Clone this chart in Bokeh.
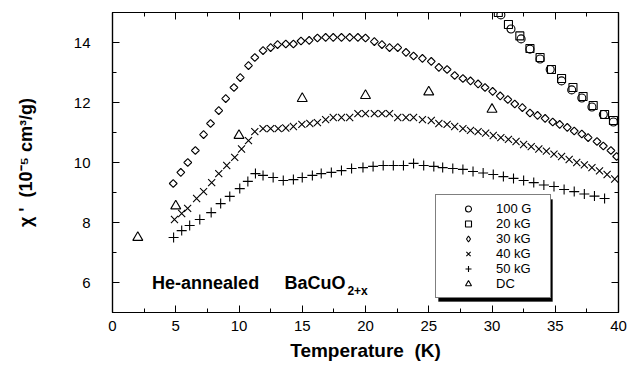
import math
from bokeh.plotting import figure
from bokeh.models import (Range1d, SingleIntervalTicker, LinearAxis, Legend, LegendItem, Label,
                          BoxAnnotation, CustomJSTickFormatter)
from bokeh.embed import file_html
from bokeh.resources import INLINE

FONT = "Liberation Sans"

# 100 G (circles)
t_100G = [30.7, 31.5, 32.3, 33.0, 33.8, 34.6, 35.5, 36.3, 37.1, 37.9, 38.8, 39.6]
x_100G = [14.92, 14.45, 14.12, 13.78, 13.45, 13.1, 12.72, 12.42, 12.15, 11.85, 11.6, 11.35]

# 20 kG (squares)
t_20kG = [30.5, 31.3, 32.2, 33.0, 33.8, 34.7, 35.5, 36.4, 37.2, 38.0, 38.9, 39.6]
x_20kG = [15.0, 14.6, 14.22, 13.8, 13.5, 13.1, 12.8, 12.5, 12.2, 11.9, 11.6, 11.4]

# 30 kG (diamonds)
t_30kG = [4.8, 5.4, 5.95, 6.55, 7.2, 7.75, 8.4, 8.95, 9.6, 10.1, 10.75, 11.25, 11.9, 12.5, 13.05,
          13.7, 14.3, 14.9, 15.55, 16.2, 16.85, 17.45, 18.1, 18.75, 19.4, 20.0, 20.7, 21.3, 21.9, 22.55,
          23.2, 23.8, 24.5, 25.2, 25.8, 26.45, 27.05, 27.7, 28.3, 28.9, 29.45, 30.05, 30.65, 31.25, 31.8,
          32.4, 33.0, 33.6, 34.2, 34.8, 35.35, 35.95, 36.5, 37.1, 37.6, 38.3, 38.8, 39.4, 39.85]
x_30kG = [9.3, 9.67, 10.0, 10.4, 10.93, 11.3, 11.73, 12.13, 12.5, 12.83, 13.23, 13.5, 13.73, 13.83, 13.93,
          13.95, 13.95, 14.05, 14.07, 14.15, 14.17, 14.17, 14.17, 14.17, 14.17, 14.15, 14.03, 13.93, 13.83, 13.83,
          13.67, 13.55, 13.47, 13.37, 13.17, 13.1, 12.9, 12.8, 12.72, 12.62, 12.5, 12.37, 12.22, 12.1, 11.95,
          11.83, 11.65, 11.57, 11.47, 11.35, 11.27, 11.17, 11.05, 10.95, 10.83, 10.7, 10.55, 10.4, 10.2]

# 40 kG (x)
t_40kG = [4.9, 5.47, 5.94, 6.65, 7.2, 7.84, 8.4, 9.03, 9.66, 10.2, 10.75, 11.25, 11.9, 12.5, 13.1,
          13.7, 14.3, 14.97, 15.6, 16.2, 16.85, 17.45, 18.1, 18.75, 19.4, 20.0, 20.7, 21.3, 21.9, 22.55,
          23.2, 23.8, 24.5, 25.2, 25.8, 26.45, 27.05, 27.7, 28.3, 28.9, 29.5, 30.1, 30.7, 31.3, 31.9,
          32.5, 33.1, 33.7, 34.3, 34.9, 35.5, 36.1, 36.7, 37.3, 37.9, 38.5, 39.1, 39.7]
x_40kG = [8.1, 8.3, 8.47, 8.8, 9.03, 9.33, 9.63, 9.9, 10.17, 10.45, 10.73, 11.03, 11.13, 11.13, 11.13,
          11.15, 11.2, 11.27, 11.3, 11.33, 11.43, 11.5, 11.5, 11.5, 11.63, 11.63, 11.63, 11.63, 11.63, 11.5,
          11.5, 11.5, 11.43, 11.4, 11.3, 11.27, 11.2, 11.13, 11.07, 11.03, 10.98, 10.9, 10.83, 10.77, 10.7,
          10.6, 10.53, 10.45, 10.38, 10.28, 10.2, 10.1, 10.0, 9.92, 9.83, 9.72, 9.6, 9.45]

# 50 kG (+)
t_50kG = [4.83, 5.47, 6.1, 6.9, 7.8, 8.55, 9.27, 10.06, 10.7, 11.3, 11.9, 12.7, 13.5, 14.3, 15.0,
          15.8, 16.5, 17.3, 18.1, 18.9, 19.8, 20.6, 21.4, 22.2, 23.0, 23.8, 24.6, 25.4, 26.1, 26.9,
          27.7, 28.5, 29.3, 30.1, 30.9, 31.7, 32.5, 33.3, 34.1, 34.9, 35.7, 36.5, 37.3, 38.1, 38.9]
x_50kG = [7.5, 7.73, 7.9, 8.1, 8.33, 8.63, 8.87, 9.13, 9.37, 9.63, 9.57, 9.5, 9.4, 9.43, 9.5,
          9.57, 9.63, 9.67, 9.73, 9.8, 9.83, 9.87, 9.9, 9.9, 9.9, 9.97, 9.9, 9.87, 9.83, 9.8,
          9.77, 9.7, 9.65, 9.6, 9.53, 9.47, 9.4, 9.33, 9.25, 9.2, 9.1, 9.03, 8.95, 8.88, 8.8]

# DC (triangles)
t_DC = [2, 5, 10, 15, 20, 25, 30]
x_DC = [7.5, 8.55, 10.9, 12.13, 12.23, 12.35, 11.77]

labels = ["100 G", "20 kG", "30 kG", "40 kG", "50 kG", "DC"]

p = figure(width=641, height=367, output_backend="svg", toolbar_location=None,
           x_range=Range1d(0, 40), y_range=Range1d(5, 15),
           min_border_left=112, min_border_right=23, min_border_top=12, min_border_bottom=55)
p.xgrid.visible = False
p.ygrid.visible = False
p.outline_line_color = "black"
p.outline_line_width = 1.2
p.background_fill_color = "white"
p.border_fill_color = "white"


def style(ax, show_labels):
    ax.major_tick_in = 7
    ax.major_tick_out = 0
    ax.minor_tick_in = 4
    ax.minor_tick_out = 0
    ax.axis_line_color = "black"
    ax.axis_line_width = 1.2
    ax.major_tick_line_color = "black"
    ax.minor_tick_line_color = "black"
    ax.major_tick_line_width = 1
    ax.minor_tick_line_width = 1
    if show_labels:
        ax.major_label_text_font = FONT
        ax.major_label_text_font_size = "15px"
        ax.major_label_text_color = "black"
        ax.axis_label_text_font = FONT
        ax.axis_label_text_font_style = "bold"
        ax.axis_label_text_color = "black"
    else:
        ax.formatter = CustomJSTickFormatter(code="return ''")
        ax.major_label_standoff = 0


xb = p.below[0]
yl = p.left[0]
xb.ticker = SingleIntervalTicker(interval=5, num_minor_ticks=2)
yl.ticker = SingleIntervalTicker(interval=2, num_minor_ticks=2)
style(xb, True)
style(yl, True)
xb.axis_label = "Temperature\u00a0 (K)"
xb.axis_label_text_font_size = "19px"
xb.major_label_standoff = 8
xb.axis_label_standoff = 6
yl.axis_label = "χ '\u00a0 (10⁻⁵ cm³/g)"
yl.axis_label_text_font_size = "18px"
yl.major_label_standoff = 22
yl.axis_label_standoff = 35

top = LinearAxis(ticker=SingleIntervalTicker(interval=5, num_minor_ticks=2))
style(top, False)
p.add_layout(top, "above")
right = LinearAxis(ticker=SingleIntervalTicker(interval=2, num_minor_ticks=2))
style(right, False)
p.add_layout(right, "right")

common = dict(fill_color=None, line_color="black", line_width=1.1)
r100 = p.scatter(t_100G, x_100G, marker="circle", size=8, **common)
r20 = p.scatter(t_20kG, x_20kG, marker="square", size=8, **common)
r30 = p.scatter(t_30kG, x_30kG, marker="square", size=5.5, angle=math.pi / 4, **common)
r30_leg = p.scatter(t_30kG, x_30kG, marker="diamond", size=8, visible=False, **common)
r40 = p.scatter(t_40kG, x_40kG, marker="x", size=10, **common)
r50 = p.scatter(t_50kG, x_50kG, marker="cross", size=10, **common)
rdc = p.scatter(t_DC, x_DC, marker="triangle", size=10, **common)

rends = [r100, r20, r30_leg, r40, r50, rdc]

# legend geometry (screen px, relative to the plot frame)
LEG_X, LEG_Y = 323, 14
PAD, GW, GH, STAND, LW = 6, 52, 15, 2, 48
LEG_W = 2 * PAD + GW + STAND + LW
LEG_H = 2 * PAD + GH * len(labels)
SH = 3

p.add_layout(BoxAnnotation(left=LEG_X + SH, right=LEG_X + LEG_W + SH,
                           bottom=LEG_Y - SH, top=LEG_Y + LEG_H - SH,
                           left_units="screen", right_units="screen",
                           bottom_units="screen", top_units="screen",
                           fill_color="black", fill_alpha=1.0, line_color="black"))

items = [LegendItem(label=lab, renderers=[r]) for lab, r in zip(labels, rends)]
leg = Legend(items=items, location=(LEG_X, LEG_Y), orientation="vertical",
             glyph_width=GW, glyph_height=GH, label_height=GH, label_width=LW,
             label_standoff=STAND, padding=PAD, spacing=0, margin=0,
             label_text_font=FONT, label_text_font_size="13px", label_text_color="black",
             border_line_color="black", border_line_width=1.2,
             background_fill_color="white", background_fill_alpha=1.0,
             inactive_fill_alpha=0.0)
p.add_layout(leg, "center")

p.add_layout(Label(x=3.13, y=6.0, text="He-annealed", text_font=FONT, text_font_size="18px",
                   text_font_style="bold", text_baseline="alphabetic", text_color="black"))
p.add_layout(Label(x=18.42, y=6.0, text="BaCuO", text_font=FONT, text_font_size="18px",
                   text_font_style="bold", text_baseline="alphabetic", text_align="right",
                   text_color="black"))
p.add_layout(Label(x=18.57, y=5.73, text="2+x", text_font=FONT, text_font_size="12px",
                   text_font_style="bold", text_baseline="alphabetic", text_color="black"))

open("out.html", "w").write(file_html(p, INLINE))
